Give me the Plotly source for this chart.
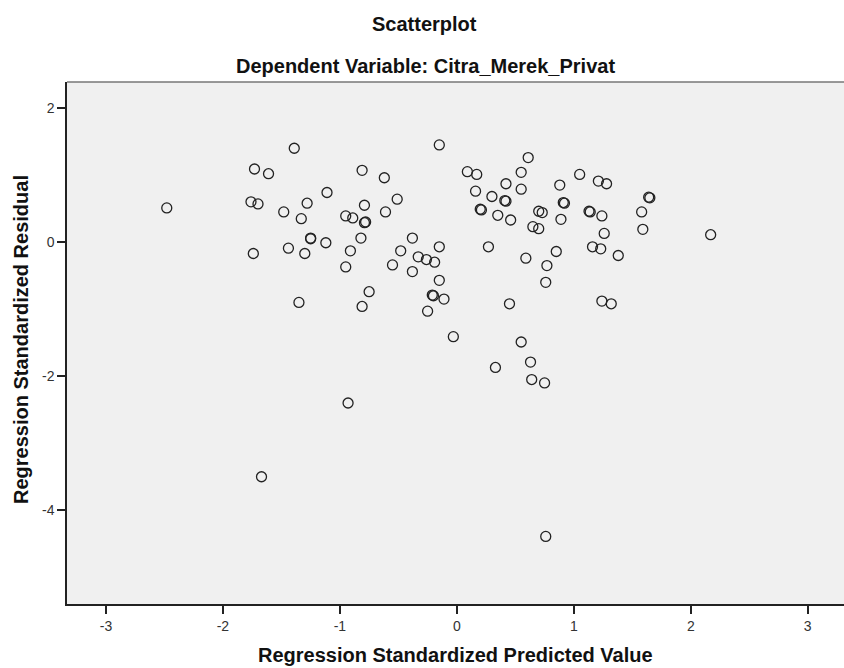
import plotly.graph_objects as go

# Regression standardized predicted value (x) and residual (y)
pred_value = [
    -2.48, -1.73, -1.61, -1.39, -1.11, -1.76, -1.70, -1.28, -1.48, -1.33, -1.25, -1.25, -1.12, -1.44, -1.74, -1.30, -1.35,
    -0.15, -0.81, -0.62, -0.51, -0.79, -0.61, -0.95, -0.89, -0.78, -0.79, -0.82, -0.91, -0.95, -0.38, -0.15, -0.48,
    -0.33, -0.26, -0.19, -0.55, -0.38, -0.15, -0.75, -0.81, -0.21, -0.20, -0.11, -0.25,
    -0.93, -1.67, -0.03,
    0.09, 0.17, 0.61, 0.55, 0.42, 1.05, 0.88, 0.16, 0.30, 0.55, 0.41, 0.42, 0.20, 0.21, 0.91, 0.92, 0.35, 0.46,
    0.70, 0.73, 0.89, 0.65, 0.70, 0.27, 0.85, 0.59, 0.77, 0.76, 0.45,
    1.21, 1.28, 1.64, 1.65, 1.13, 1.14, 1.24, 1.58, 1.26, 1.59, 2.17, 1.16, 1.23, 1.38, 1.24, 1.32,
    0.55, 0.63, 0.33, 0.64, 0.75, 0.76,
]
std_residual = [
    0.51, 1.09, 1.02, 1.40, 0.74, 0.60, 0.57, 0.58, 0.45, 0.35, 0.05, 0.06, -0.01, -0.09, -0.17, -0.17, -0.90,
    1.45, 1.07, 0.96, 0.64, 0.55, 0.45, 0.39, 0.36, 0.30, 0.29, 0.06, -0.13, -0.37, 0.06, -0.07, -0.13,
    -0.22, -0.26, -0.30, -0.34, -0.44, -0.57, -0.74, -0.96, -0.79, -0.80, -0.85, -1.03,
    -2.40, -3.50, -1.41,
    1.05, 1.01, 1.26, 1.04, 0.87, 1.01, 0.85, 0.76, 0.68, 0.79, 0.62, 0.61, 0.49, 0.48, 0.59, 0.58, 0.40, 0.33,
    0.46, 0.44, 0.34, 0.23, 0.20, -0.07, -0.14, -0.24, -0.35, -0.60, -0.92,
    0.91, 0.87, 0.67, 0.66, 0.46, 0.45, 0.39, 0.45, 0.13, 0.19, 0.11, -0.07, -0.10, -0.20, -0.88, -0.92,
    -1.49, -1.79, -1.87, -2.05, -2.10, -4.39,
]

x_ticks = [-3, -2, -1, 0, 1, 2, 3]
y_ticks = [2, 0, -2, -4]

title_main = "Scatterplot"
title_sub = "Dependent Variable: Citra_Merek_Privat"
x_title = "Regression Standardized Predicted Value"
y_title = "Regression Standardized Residual"

FONT = "Liberation Sans, Arial, sans-serif"

W, H = 844, 668
ML, MR, MT, MB = 67, 0, 82, 64
PW = W - ML - MR
PH = H - MT - MB

fig = go.Figure()
fig.add_trace(go.Scatter(
    x=pred_value, y=std_residual, mode="markers",
    marker=dict(symbol="circle-open", size=10, color="#222222", line=dict(width=1.3, color="#222222")),
    showlegend=False, hoverinfo="x+y",
))

def px_x(p):
    return (p - ML) / PW

def px_y(p):
    return (H - MB - p) / PH

TITLE_FONT = dict(size=20, family=FONT, color="#111111")

fig.update_layout(
    width=W, height=H,
    margin=dict(l=ML, r=MR, t=MT, b=MB, pad=0),
    paper_bgcolor="white",
    plot_bgcolor="#F0F0F0",
    font=dict(family=FONT, color="#222222", size=12),
    xaxis=dict(
        range=[-3.333, 3.31], tickvals=x_ticks, ticktext=[str(v) for v in x_ticks],
        showgrid=False, zeroline=False, showline=True, linecolor="#222222", linewidth=1.5,
        ticks="outside", ticklen=8, tickwidth=1.5, tickcolor="#222222",
        tickfont=dict(size=14, color="#333333", family=FONT),
    ),
    yaxis=dict(
        range=[-5.398, 2.388], tickvals=y_ticks, ticktext=[str(v) for v in y_ticks],
        showgrid=False, zeroline=False, showline=True, linecolor="#222222", linewidth=1.5,
        ticks="outside", ticklen=8, tickwidth=1.5, tickcolor="#222222",
        tickfont=dict(size=14, color="#333333", family=FONT),
    ),
    shapes=[dict(type="line", xref="paper", yref="paper", x0=0, x1=1, y0=1, y1=1,
                 line=dict(color="#777777", width=1.5))],
    annotations=[
        dict(text="<b>%s</b>" % title_main, xref="paper", yref="paper", x=px_x(424), y=px_y(24),
             xanchor="center", yanchor="middle", showarrow=False, font=TITLE_FONT),
        dict(text="<b>%s</b>" % title_sub, xref="paper", yref="paper", x=px_x(425), y=px_y(66),
             xanchor="center", yanchor="middle", showarrow=False, font=TITLE_FONT),
        dict(text="<b>%s</b>" % x_title, xref="paper", yref="paper", x=px_x(456), y=px_y(655),
             xanchor="center", yanchor="middle", showarrow=False, font=TITLE_FONT),
        dict(text="<b>%s</b>" % y_title, xref="paper", yref="paper", x=px_x(21), y=px_y(340),
             xanchor="center", yanchor="middle", textangle=-90, showarrow=False, font=TITLE_FONT),
    ],
)

fig.write_html("out.html")
